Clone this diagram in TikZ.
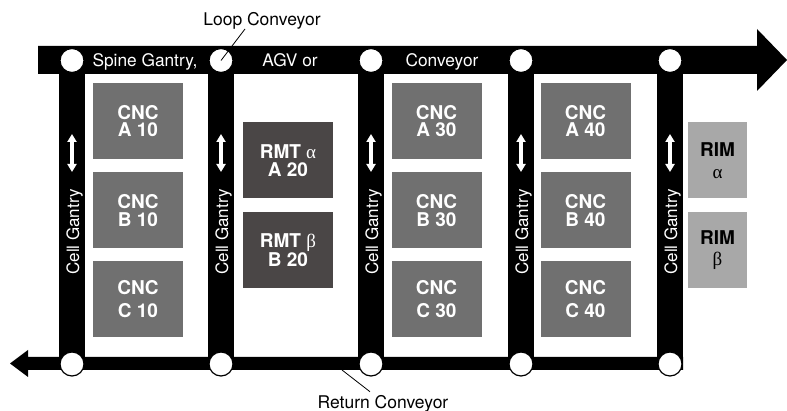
\documentclass[tikz,border=0pt]{standalone}
\usepackage{fontspec}
\setmainfont{TeX Gyre Heros}
\newfontfamily\greekfont{Liberation Serif}
\usetikzlibrary{arrows.meta}

\definecolor{cncgray}{RGB}{112,112,112}
\definecolor{rmtgray}{RGB}{74,70,70}
\definecolor{rimgray}{RGB}{168,168,168}

\tikzset{
  stop/.style={circle, fill=white, draw=black, line width=1.2pt, minimum size=24pt, inner sep=0pt},
  onbar/.style={font=\fontsize{17.3}{20}\selectfont, text=white, inner sep=0pt, anchor=base},
  caption/.style={font=\fontsize{17.5}{20}\selectfont, text=black, inner sep=0pt, anchor=base},
  machine/.style={minimum width=90pt, minimum height=76pt, inner sep=0pt, align=center,
    text=white, font=\bfseries\fontsize{19}{17.5}\selectfont},
  cnc/.style={machine, fill=cncgray},
  cncwide/.style={cnc, font=\bfseries\fontsize{19}{23}\selectfont},
  rmt/.style={machine, fill=rmtgray},
  rim/.style={machine, fill=rimgray, text=black, minimum width=59pt,
    font=\bfseries\fontsize{19}{21.5}\selectfont},
  shiftarrow/.style={white, line width=3.5pt, {Triangle[width=9pt,length=8pt]}-{Triangle[width=9pt,length=8pt]}},
  leader/.style={black, line width=0.8pt},
}
\newcommand{\gr}[1]{{\greekfont\mdseries #1}}

\begin{document}
\begin{tikzpicture}[x=1pt, y=-1pt]
\useasboundingbox (0,0) rectangle (787,411);

% loop conveyor (top, running right)
\fill[black] (38,46) -- (757,46) -- (757,29) -- (787,60) -- (757,91) -- (757,74) -- (38,74) -- cycle;
% return conveyor (bottom, running left)
\fill[black] (683,357) -- (683,370) -- (28,370) -- (28,377) -- (10,363.5) -- (28,350) -- (28,357) -- cycle;

% cell gantries
\foreach \gx in {72,221,371,521,670}{
  \fill[black] (\gx-13,60) rectangle (\gx+13,364);
  \draw[shiftarrow] (\gx,134) -- (\gx,172);
  \node[rotate=90, anchor=base, text=white, font=\fontsize{17}{19}\selectfont, inner sep=0pt]
    at (\gx+7,232) {Cell Gantry};
}

% transfer points
\node[stop] (t1) at (72,60.5) {};
\node[stop] (t2) at (221,60.5) {};
\node[stop] (t3) at (371,60.5) {};
\node[stop] (t4) at (521,60.5) {};
\node[stop] (t5) at (670,60.5) {};
\node[stop] (b1) at (72,364) {};
\node[stop] (b2) at (221,364) {};
\node[stop] (b3) at (371,364) {};
\node[stop] (b4) at (521,364) {};
\node[stop] (b5) at (670,364) {};

% text on the loop conveyor
\node[onbar] (s1) at (145,67) {Spine Gantry,};
\node[onbar] (s2) at (290,67) {AGV or};
\node[onbar] (s3) at (442,67) {Conveyor};

% machines
\node[cnc] (a10) at (138,121) {CNC\\A 10};
\node[cnc] (b10) at (138,210.5) {CNC\\B 10};
\node[cncwide] (c10) at (138,299.5) {CNC\\C 10};

\node[rmt] (a20) at (288,160.5) {RMT \gr{α}\\A 20};
\node[rmt] (b20) at (288,250) {RMT \gr{β}\\B 20};

\node[cnc] (a30) at (436.5,121) {CNC\\A 30};
\node[cnc] (b30) at (436.5,210.5) {CNC\\B 30};
\node[cncwide] (c30) at (436.5,299.5) {CNC\\C 30};

\node[cnc] (a40) at (585.5,121) {CNC\\A 40};
\node[cnc] (b40) at (585.5,210.5) {CNC\\B 40};
\node[cncwide] (c40) at (585.5,299.5) {CNC\\C 40};

\node[rim] (rima) at (717.5,160.5) {RIM\\\gr{α}};
\node[rim] (rimb) at (717.5,250) {RIM\\\gr{β}};

% callouts
\node[caption] (loop) at (262,26) {Loop Conveyor};
\draw[leader] ([xshift=-17pt, yshift=-3pt]loop.base) -- (t2.center);

\coordinate (retfoot) at (342,370);
\node[caption] (ret) at (383,408) {Return Conveyor};
\draw[leader] (retfoot) -- ([xshift=-13pt, yshift=3pt]ret.north);
\end{tikzpicture}
\end{document}
